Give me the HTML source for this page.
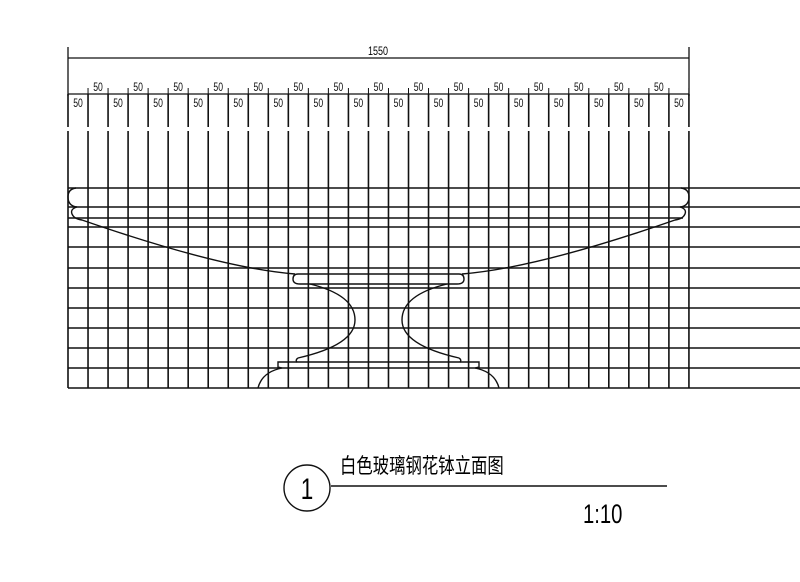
<!DOCTYPE html><html><head><style>body{margin:0;background:#fff}svg{display:block}</style></head><body>
<svg width="800" height="582" xmlns="http://www.w3.org/2000/svg" font-family="'Liberation Sans Narrow','Liberation Sans',sans-serif">
<g stroke="#111" stroke-width="1.3" fill="none">
<line x1="68" y1="58" x2="689" y2="58"/>
<line x1="68" y1="47" x2="68" y2="96"/><line x1="689" y1="47" x2="689" y2="96"/>
<line x1="68" y1="94" x2="689" y2="94"/>
</g>
<g id="grid" stroke="#111" stroke-width="1.6"></g>
<g stroke="#111" stroke-width="1.4" fill="none">
<path d="M76,188 Q68,189 68,197 Q68,206 77,207 Q70,209 72,214 Q74,219 82,220 Q220,268 295,274"/>
<path d="M681,188 Q689,189 689,197 Q689,206 680,207 Q687,209 685,214 Q683,219 675,220 Q537,268 462,274"/>
<path d="M298,274 Q293,274 293,279 Q293,284 300,284 L457,284 Q464,284 464,279 Q464,274 459,274 Z"/>
<path d="M310,284 Q355,295 355,320 Q355,345 298,358"/>
<path d="M447,284 Q402,295 402,320 Q402,345 459,358"/>
<path d="M298,358 Q295,360 297,362 L460,362 Q462,360 459,358"/>
<path d="M297,362 L278,362 L278,367 L282,368 Q262,372 258,388"/>
<path d="M460,362 L479,362 L479,367 L475,368 Q495,372 499,388"/>
<circle cx="307" cy="488" r="23"/>
<line x1="331" y1="486" x2="667" y2="486"/>
</g>
<g id="t" font-size="12" text-anchor="middle" fill="#111"></g>
<text x="378" y="55" font-size="12" text-anchor="middle" transform="translate(378 0) scale(0.75 1) translate(-378 0)">1550</text>
<text x="307" y="499" font-size="30" text-anchor="middle" font-family="'Liberation Sans',sans-serif" transform="translate(307 0) scale(0.75 1) translate(-307 0)">1</text>
<text x="340" y="473" font-size="21" font-family="'Liberation Sans','Noto Sans CJK SC',sans-serif" transform="translate(340 0) scale(0.78 1) translate(-340 0)">白色玻璃钢花钵立面图</text>
<text x="583" y="523" font-size="27" font-family="'Liberation Sans',sans-serif" transform="translate(583 0) scale(0.75 1) translate(-583 0)">1:10</text>
<script>
var g=document.getElementById('grid'),t=document.getElementById('t'),ns='http://www.w3.org/2000/svg';
function L(a,b,c,d,w){var l=document.createElementNS(ns,'line');l.setAttribute('x1',a);l.setAttribute('y1',b);l.setAttribute('x2',c);l.setAttribute('y2',d);if(w)l.setAttribute('stroke-width',w);g.appendChild(l);}
for(var k=0;k<=31;k++){var x=68+k*20.03;L(x,94,x,127);L(x,131,x,388);
 L(x,88,x,100,1);}
var ys=[188,207,227,247,268,288,308,328,348,368,388];
ys.forEach(function(y){L(68,y,800,y);});
L(68,218,683,218);
for(var k=0;k<31;k++){var tx=document.createElementNS(ns,'text');var cx=78+k*20.03;
 tx.setAttribute('x',cx);tx.setAttribute('y',k%2?91:107);tx.textContent='50';
 tx.setAttribute('transform','translate('+cx+' 0) scale(0.72 1) translate('+(-cx)+' 0)');t.appendChild(tx);}
</script>
</svg></body></html>
